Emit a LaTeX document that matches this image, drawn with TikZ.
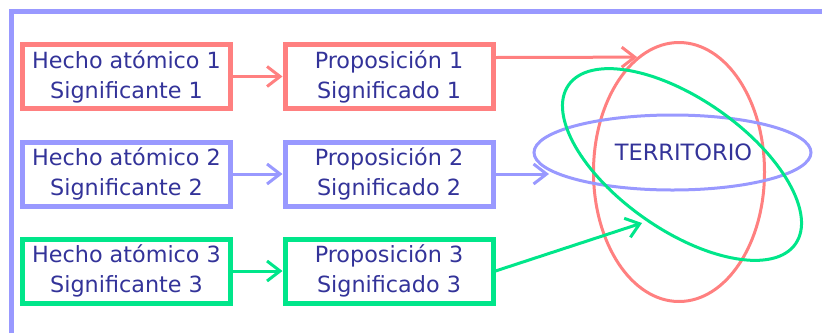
\documentclass[tikz,border=0pt]{standalone}
\usepackage{fontspec}
\setmainfont{DejaVu Sans}
\usetikzlibrary{arrows.meta,shapes.geometric}
\definecolor{rojo}{HTML}{FF8080}
\definecolor{azul}{HTML}{9999FF}
\definecolor{verde}{HTML}{00E68A}
\definecolor{tinta}{HTML}{333399}
\tikzset{
  caja/.style={draw=#1, line width=5pt, minimum width=208pt, minimum height=64pt,
    inner sep=0pt, align=center, text=tinta, font=\fontsize{22.3}{30}\selectfont},
  flecha/.style={draw=#1, line width=3pt, -{Straight Barb[length=13pt,width=20pt]}},
  ovalo/.style={draw=#1, line width=3pt, ellipse, inner sep=0pt}
}
\begin{document}
\begin{tikzpicture}[x=1pt,y=-1pt]
    \useasboundingbox (0,0) rectangle (822,333);
    % Marco
    \draw[azul, line width=5pt] (11,333) -- (11,11.5) -- (822,11.5);

    % Cajas
    \foreach \n/\c/\y in {1/rojo/76.5, 2/azul/174, 3/verde/271}{
    \node[caja=\c] (hecho\n) at (126.5,\y) {Hecho atómico \n\\Significante \n};
    \node[caja=\c] (prop\n) at (389,\y) {Proposición \n\\Significado \n};
    \draw[flecha=\c] (hecho\n.east) -- (prop\n.west);
    }

    % Elipses
    \node[ovalo=rojo, minimum width=171pt, minimum height=259pt] (elipse1) at (679,172) {};
    \node[ovalo=azul, minimum width=277pt, minimum height=75pt, text=tinta,
      font=\fontsize{22.5}{30}\selectfont] (territorio) at (672.5,152.5) {\hspace*{22pt}TERRITORIO};
    \node[ovalo=verde, minimum width=277pt, minimum height=131pt, rotate=-35] (elipse3) at (682,164.5) {};

    \coordinate (t2) at (549,174);
    \coordinate (t3) at (642,223);
    \draw[flecha=rojo] ([yshift=19pt]prop1.east) -- (elipse1.110);
    \draw[flecha=azul] (prop2.east) -- (t2);
    \draw[flecha=verde] (prop3.east) -- (t3);
\end{tikzpicture}
\end{document}
